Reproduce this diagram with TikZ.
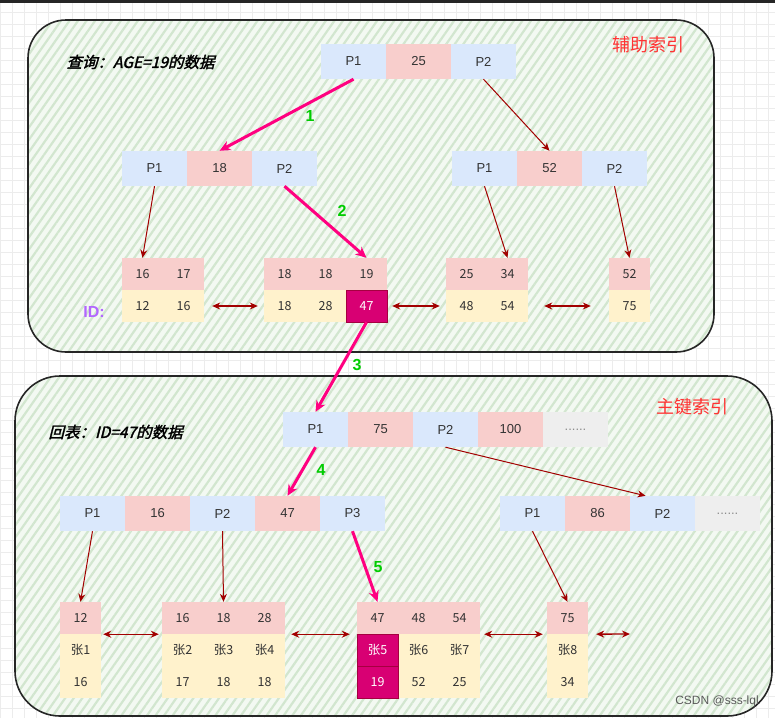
\documentclass[tikz,border=0pt]{standalone}
\usepackage{fontspec}
\setmainfont{Liberation Sans}
\newfontfamily\cjk{Noto Sans CJK SC}
\newfontfamily\cjktitle{Noto Sans CJK SC}[FakeSlant=0.25, FakeBold=2]
\usepackage{tikz}
\usetikzlibrary{patterns.meta, arrows.meta, positioning}
\usepackage{xcolor}
\definecolor{ptrblue}{RGB}{218, 232, 252}
\definecolor{keypink}{RGB}{248, 206, 204}
\definecolor{valyellow}{RGB}{255, 242, 204}
\definecolor{moregrey}{RGB}{238, 238, 238}
\definecolor{hitfill}{RGB}{216, 0, 115}
\definecolor{hitline}{RGB}{165, 0, 64}
\definecolor{pathpink}{RGB}{255, 0, 128}
\definecolor{linkred}{RGB}{162, 0, 0}
\definecolor{stepgreen}{RGB}{0, 204, 0}
\definecolor{idpurple}{RGB}{178, 102, 255}
\definecolor{titlered}{RGB}{255, 51, 51}
\definecolor{panelgreen}{RGB}{243, 249, 242}
\definecolor{hatchgreen}{RGB}{210, 230, 207}
\definecolor{gridgrey}{RGB}{236, 236, 236}
\definecolor{celltext}{RGB}{51, 51, 51}
\newcommand\etcdots{......}

\tikzset{
    cell/.style={minimum width=65pt, minimum height=35pt, inner sep=0pt,
        text=celltext, font=\fontsize{13}{15}\selectfont},
    ptr/.style={cell, fill=ptrblue},
    key/.style={cell, fill=keypink},
    more/.style={cell, fill=moregrey, text=black!45},
    leafcell/.style={minimum width=41pt, minimum height=32pt, inner sep=0pt,
        text=celltext, font=\cjk\fontsize{12.5}{15}\selectfont},
    leafkey/.style={leafcell, fill=keypink},
    leafval/.style={leafcell, fill=valyellow},
    hit/.style={fill=hitfill, draw=hitline, line width=1pt, text=white},
    searchpath/.style={pathpink, line width=3pt, -{Stealth[length=11pt, width=10pt]}},
    link/.style={linkred, line width=1pt, -{Stealth[length=8pt, width=7pt]}},
    sibling/.style={linkred, line width=1.3pt, {Stealth[length=8pt, width=7pt]}-{Stealth[length=8pt, width=7pt]}},
    stepnum/.style={text=stepgreen, font=\bfseries\fontsize{16}{18}\selectfont},
    panel/.style={draw=black!85, line width=1.6pt, rounded corners=38pt,
        preaction={fill=panelgreen},
        pattern={Lines[angle=55, distance=7pt, line width=2.2pt]}, pattern color=hatchgreen},
    paneltitle/.style={anchor=west, font=\cjktitle\fontsize{15.5}{18}\selectfont},
    indexname/.style={text=titlered, font=\cjk\fontsize{18}{21}\selectfont},
}

\begin{document}
\begin{tikzpicture}[x=1pt, y=-1pt]
    \useasboundingbox (0,0) rectangle (775,718);
    \clip (0,0) rectangle (775,718);
    % background grid
    \draw[gridgrey, line width=0.6pt] (0,0) grid[step=12pt] (775,718);
    \fill[black!85] (0,0) rectangle (775,2.5);

    % panels
    \draw[panel] (28,20) rectangle (714,352);
    \draw[panel, rounded corners=45pt] (15,376) rectangle (772,716);

    \node[paneltitle] (q-title) at (63,62) {查询：AGE=19的数据};
    \node[indexname] (q-name) at (648,45) {辅助索引};
    \node[paneltitle] (h-title) at (45,432) {回表：ID=47的数据};
    \node[indexname] (h-name) at (692,407) {主键索引};

    % secondary index: inner nodes
    \foreach \lbl/\kind [count=\i] in {P1/ptr, 25/key, P2/ptr}
        \node[\kind] (s-root-\i) at ({288.5+65*\i}, 61.5) {\lbl};
    \foreach \lbl/\kind [count=\i] in {P1/ptr, 18/key, P2/ptr}
        \node[\kind] (s-left-\i) at ({89.5+65*\i}, 168.5) {\lbl};
    \foreach \lbl/\kind [count=\i] in {P1/ptr, 52/key, P2/ptr}
        \node[\kind] (s-right-\i) at ({419.5+65*\i}, 168.5) {\lbl};

    % secondary index: leaves (age / id)
    \foreach \k/\v [count=\i] in {16/12, 17/16} {
        \node[leafkey] (sl1-k\i) at ({101.5+41*\i}, 274) {\k};
        \node[leafval] (sl1-v\i) at ({101.5+41*\i}, 306) {\v};
    }
    \foreach \k/\v [count=\i] in {18/18, 18/28, 19/47} {
        \node[leafkey] (sl2-k\i) at ({243.5+41*\i}, 274) {\k};
        \node[leafval] (sl2-v\i) at ({243.5+41*\i}, 306) {\v};
    }
    \node[leafval, hit] at (sl2-v3) {47};
    \foreach \k/\v [count=\i] in {25/48, 34/54} {
        \node[leafkey] (sl3-k\i) at ({425.5+41*\i}, 274) {\k};
        \node[leafval] (sl3-v\i) at ({425.5+41*\i}, 306) {\v};
    }
    \node[leafkey] (sl4-k1) at (629.5, 274) {52};
    \node[leafval] (sl4-v1) at (629.5, 306) {75};
    \node[text=idpurple, font=\bfseries\fontsize{16}{18}\selectfont] (id-label) at (94,312) {ID:};

    % primary index: inner nodes
    \foreach \lbl/\kind [count=\i] in {P1/ptr, 75/key, P2/ptr, 100/key, \etcdots/more}
        \node[\kind] (p-root-\i) at ({250.5+65*\i}, 429.5) {\lbl};
    \foreach \lbl/\kind [count=\i] in {P1/ptr, 16/key, P2/ptr, 47/key, P3/ptr}
        \node[\kind] (p-left-\i) at ({27.5+65*\i}, 513.5) {\lbl};
    \foreach \lbl/\kind [count=\i] in {P1/ptr, 86/key, P2/ptr, \etcdots/more}
        \node[\kind] (p-right-\i) at ({467.5+65*\i}, 513.5) {\lbl};

    % primary index: leaves (id / name / age)
    \node[leafkey] (pl1-k1) at (80.5, 618) {12};
    \node[leafval] (pl1-n1) at (80.5, 650) {张1};
    \node[leafval] (pl1-a1) at (80.5, 682) {16};
    \foreach \k/\n/\a [count=\i] in {16/张2/17, 18/张3/18, 28/张4/18} {
        \node[leafkey] (pl2-k\i) at ({141.5+41*\i}, 618) {\k};
        \node[leafval] (pl2-n\i) at ({141.5+41*\i}, 650) {\n};
        \node[leafval] (pl2-a\i) at ({141.5+41*\i}, 682) {\a};
    }
    \foreach \k/\n/\a [count=\i] in {47/张5/19, 48/张6/52, 54/张7/25} {
        \node[leafkey] (pl3-k\i) at ({336.5+41*\i}, 618) {\k};
        \node[leafval] (pl3-n\i) at ({336.5+41*\i}, 650) {\n};
        \node[leafval] (pl3-a\i) at ({336.5+41*\i}, 682) {\a};
    }
    \node[leafval, hit] at (pl3-n1) {张5};
    \node[leafval, hit] at (pl3-a1) {19};
    \node[leafkey] (pl4-k1) at (567.5, 618) {75};
    \node[leafval] (pl4-n1) at (567.5, 650) {张8};
    \node[leafval] (pl4-a1) at (567.5, 682) {34};
    \coordinate (pl-next) at (630, 634);

    % secondary index links
    \draw[searchpath] (s-root-1.south) -- (s-left-2.north);
    \node[stepnum] (step-1) at (310,116) {1};
    \draw[link] (s-root-3.south) -- (s-right-2.north);
    \draw[link] (s-left-1.south) -- (sl1-k1.north);
    \draw[searchpath] (s-left-3.south) -- (sl2-k3.north);
    \node[stepnum] (step-2) at (342,211) {2};
    \draw[link] (s-right-1.south) -- (sl3-k2.north);
    \draw[link] (s-right-3.south) -- (sl4-k1.north);
    \draw[sibling, shorten <=8pt, shorten >=6pt] (sl1-v2.east) -- (sl2-v1.west);
    \draw[sibling, shorten <=5pt, shorten >=6pt] (sl2-v3.east) -- (sl3-v1.west);
    \draw[sibling, shorten <=16pt, shorten >=18pt] (sl3-v2.east) -- (sl4-v1.west);

    % back to the table
    \draw[searchpath] (sl2-v3.south) -- (p-root-1.north);
    \node[stepnum] (step-3) at (357,365) {3};

    % primary index links
    \draw[searchpath] (p-root-1.south) -- (p-left-4.north);
    \node[stepnum] (step-4) at (321,470) {4};
    \draw[link] (p-root-3.south) -- ([xshift=-17pt]p-right-3.north);
    \draw[searchpath] (p-left-5.south) -- (pl3-k1.north);
    \node[stepnum] (step-5) at (378,567) {5};
    \draw[link] (p-left-1.south) -- (pl1-k1.north);
    \draw[link] (p-left-3.south) -- (pl2-k2.north);
    \draw[link] (p-right-1.south) -- (pl4-k1.north);
    \draw[sibling, shorten <=2pt, shorten >=3pt] (pl1-k1.south east) -- (pl2-k1.south west);
    \draw[sibling, shorten <=6pt, shorten >=7pt] (pl2-k3.south east) -- (pl3-k1.south west);
    \draw[sibling, shorten <=4pt, shorten >=4pt] (pl3-k3.south east) -- (pl4-k1.south west);
    \draw[sibling, shorten <=8pt] (pl4-k1.south east) -- (pl-next);

    \node[text=black!65, font=\fontsize{12}{14}\selectfont] (mark) at (717,701) {CSDN @sss-lql};
\end{tikzpicture}
\end{document}
